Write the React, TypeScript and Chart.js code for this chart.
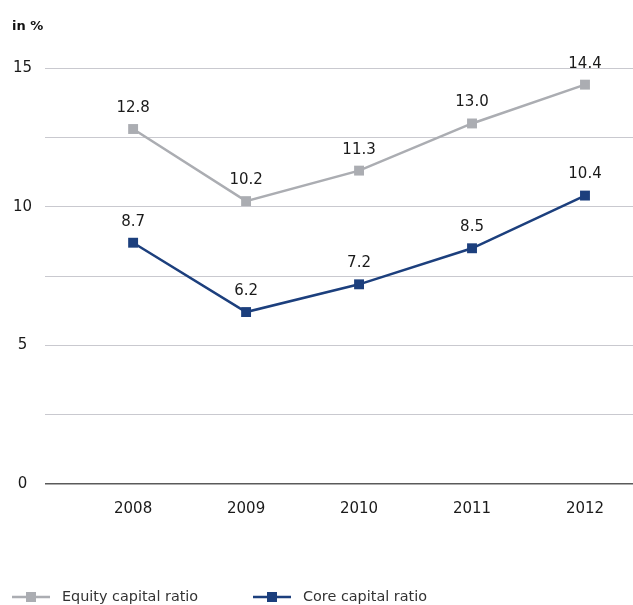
import React, { useEffect, useRef } from "react";
import { Chart, registerables } from "chart.js";

Chart.register(...registerables);

const years = [2008, 2009, 2010, 2011, 2012];
const equityRatio = [12.8, 10.2, 11.3, 13.0, 14.4];
const coreRatio = [8.7, 6.2, 7.2, 8.5, 10.4];
const seriesNames = ["Equity capital ratio", "Core capital ratio"];
const yTickLabels = [0, 5, 10, 15];

const FONT = "'DejaVu Sans', sans-serif";
const GREY = "#abadb2";
const BLUE = "#1c3f7d";

const overlayPlugin = {
  id: "overlay",
  afterDatasetsDraw(chart: any) {
    const ctx = chart.ctx;
    ctx.save();
    // data labels
    ctx.font = `15px ${FONT}`;
    ctx.fillStyle = "#1a1a1a";
    ctx.textAlign = "center";
    ctx.textBaseline = "middle";
    chart.data.datasets.forEach((ds: any, i: number) => {
      const meta = chart.getDatasetMeta(i);
      meta.data.forEach((pt: any, j: number) => {
        ctx.fillText(ds.data[j].y.toFixed(1), pt.x, pt.y - 21);
      });
    });
    // axis title
    ctx.font = `bold 13px ${FONT}`;
    ctx.textAlign = "left";
    ctx.fillStyle = "#111";
    ctx.fillText("in %", 12, 27);
    // legend
    const items = [
      { x: 12, color: GREY, label: seriesNames[0] },
      { x: 253, color: BLUE, label: seriesNames[1] },
    ];
    const ly = 597;
    items.forEach((it) => {
      ctx.strokeStyle = it.color;
      ctx.lineWidth = 2.5;
      ctx.beginPath();
      ctx.moveTo(it.x, ly);
      ctx.lineTo(it.x + 38, ly);
      ctx.stroke();
      ctx.fillStyle = it.color;
      ctx.fillRect(it.x + 14, ly - 5, 10, 10);
      ctx.font = `14.4px ${FONT}`;
      ctx.fillStyle = "#333";
      ctx.textAlign = "left";
      ctx.fillText(it.label, it.x + 50, ly);
    });
    ctx.restore();
  },
};

export default function App() {
  const ref = useRef<HTMLCanvasElement>(null);
  useEffect(() => {
    const chart = new Chart(ref.current!, {
      type: "line",
      data: {
        datasets: [
          {
            label: seriesNames[0],
            data: years.map((y, i) => ({ x: y, y: equityRatio[i] })),
            borderColor: GREY,
            backgroundColor: GREY,
            borderWidth: 2.5,
            pointStyle: "rect",
            pointRadius: 7,
            pointBorderWidth: 0,
          },
          {
            label: seriesNames[1],
            data: years.map((y, i) => ({ x: y, y: coreRatio[i] })),
            borderColor: BLUE,
            backgroundColor: BLUE,
            borderWidth: 2.5,
            pointStyle: "rect",
            pointRadius: 7,
            pointBorderWidth: 0,
          },
        ],
      },
      options: {
        animation: false,
        responsive: false,
        layout: { autoPadding: false, padding: { top: 68, bottom: 79, left: 0, right: 0 } },
        plugins: { legend: { display: false }, tooltip: { enabled: false } },
        scales: {
          x: {
            type: "linear",
            min: 2007.22,
            max: 2012.425,
            afterBuildTicks: (axis: any) => {
              axis.ticks = years.map((v) => ({ value: v }));
            },
            ticks: {
              callback: (v: any) => String(v),
              font: { family: FONT, size: 15 },
              color: "#1a1a1a",
              padding: 8,
              maxRotation: 0,
            },
            grid: { display: false },
            border: { display: false },
          },
          y: {
            min: 0,
            max: 15,
            ticks: {
              stepSize: 2.5,
              callback: (v: any) => (yTickLabels.includes(v) ? String(v) : ""),
              font: { family: FONT, size: 15 },
              color: "#1a1a1a",
              crossAlign: "center",
              padding: 13,
            },
            afterFit: (axis: any) => {
              axis.width = 45;
            },
            grid: {
              drawTicks: false,
              color: (c: any) => (c.tick && c.tick.value === 0 ? "#5a5a5a" : "#c9c9cf"),
              lineWidth: (c: any) => (c.tick && c.tick.value === 0 ? 1.5 : 1),
            },
            border: { display: false },
          },
        },
      },
      plugins: [overlayPlugin],
    } as any);
    return () => chart.destroy();
  }, []);
  return (
    <div style={{ position: "fixed", left: 0, top: 0, width: 633, height: 605, background: "#fff" }}>
      <canvas ref={ref} width={633} height={605} style={{ display: "block" }} />
    </div>
  );
}
